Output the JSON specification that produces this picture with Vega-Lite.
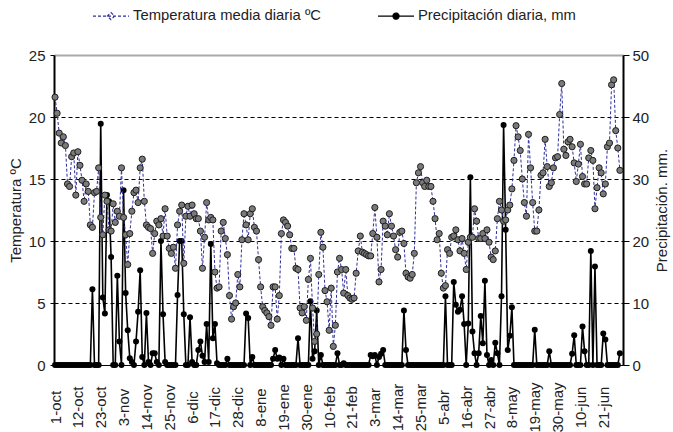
{
"$schema": "https://vega.github.io/schema/vega-lite/v6.json",
"width": 569, "height": 310,
"autosize": {"type": "none"},
"padding": {"left": 54, "top": 55, "right": 50, "bottom": 67},
"config": {"font": "Liberation Sans", "view": {"stroke": null},
  "axis": {"labelColor": "#222", "titleColor": "#222", "labelFontSize": 15, "titleFontSize": 15, "titleFontWeight": "normal", "labelFont": "Liberation Sans", "titleFont": "Liberation Sans"}},
"data": {"values": [
{"d":0,"t":21.6,"p":0},{"d":1,"t":20.3,"p":0},{"d":2,"t":18.7,"p":0},{"d":3,"t":17.9,"p":0},{"d":4,"t":18.4,"p":0},{"d":5,"t":17.7,"p":0},{"d":6,"t":14.6,"p":0},{"d":7,"t":14.4,"p":0},{"d":8,"t":16.8,"p":0},{"d":9,"t":17.1,"p":0},
{"d":10,"t":13.7,"p":0},{"d":11,"t":17.2,"p":0},{"d":12,"t":16.1,"p":0},{"d":13,"t":14.9,"p":0},{"d":14,"t":13.2,"p":0},{"d":15,"t":14.6,"p":0},{"d":16,"t":14.0,"p":0},{"d":17,"t":11.3,"p":0},{"d":18,"t":11.1,"p":12.2},{"d":19,"t":13.9,"p":0},
{"d":20,"t":14.0,"p":0},{"d":21,"t":15.9,"p":0},{"d":22,"t":11.9,"p":38.9},{"d":23,"t":10.5,"p":10.9},{"d":24,"t":13.7,"p":8.3},{"d":25,"t":13.2,"p":27.4},{"d":26,"t":10.9,"p":26.4},{"d":27,"t":10.8,"p":17.4},{"d":28,"t":13.0,"p":0},{"d":29,"t":11.5,"p":0},
{"d":30,"t":12.4,"p":14.4},{"d":31,"t":12.0,"p":3.8},{"d":32,"t":15.9,"p":0},{"d":33,"t":11.9,"p":28.2},{"d":34,"t":10.5,"p":11.6},{"d":35,"t":8.1,"p":5.6},{"d":36,"t":10.6,"p":1.1},{"d":37,"t":12.4,"p":0.5},{"d":38,"t":13.9,"p":0},{"d":39,"t":14.1,"p":3.8},
{"d":40,"t":13.1,"p":8.6},{"d":41,"t":15.9,"p":15.3},{"d":42,"t":16.6,"p":1.3},{"d":43,"t":13.2,"p":0},{"d":44,"t":11.3,"p":8.4},{"d":45,"t":11.1,"p":0.5},{"d":46,"t":11.0,"p":0},{"d":47,"t":9.0,"p":1.9},{"d":48,"t":10.6,"p":1.9},{"d":49,"t":11.6,"p":0.5},
{"d":50,"t":11.3,"p":0},{"d":51,"t":11.8,"p":20.0},{"d":52,"t":10.4,"p":8.2},{"d":53,"t":12.6,"p":0.5},{"d":54,"t":10.4,"p":0},{"d":55,"t":9.4,"p":0},{"d":56,"t":9.0,"p":0},{"d":57,"t":9.5,"p":0},{"d":58,"t":7.8,"p":0},{"d":59,"t":11.3,"p":11.3},
{"d":60,"t":12.4,"p":20.0},{"d":61,"t":12.9,"p":20.0},{"d":62,"t":8.2,"p":8.2},{"d":63,"t":12.0,"p":0},{"d":64,"t":12.8,"p":0},{"d":65,"t":12.0,"p":7.7},{"d":66,"t":12.9,"p":0.5},{"d":67,"t":12.2,"p":0},{"d":68,"t":11.8,"p":0},{"d":69,"t":11.8,"p":2.4},
{"d":70,"t":10.8,"p":3.8},{"d":71,"t":7.8,"p":1.5},{"d":72,"t":10.3,"p":0.5},{"d":73,"t":13.1,"p":6.6},{"d":74,"t":11.7,"p":0.5},{"d":75,"t":11.9,"p":19.5},{"d":76,"t":11.7,"p":4.3},{"d":77,"t":7.5,"p":6.6},{"d":78,"t":6.2,"p":0.3},{"d":79,"t":6.3,"p":0},
{"d":80,"t":10.8,"p":0},{"d":81,"t":11.5,"p":0},{"d":82,"t":10.2,"p":0},{"d":83,"t":8.9,"p":1.0},{"d":84,"t":5.6,"p":0},{"d":85,"t":3.7,"p":0},{"d":86,"t":4.7,"p":0},{"d":87,"t":5.0,"p":0},{"d":88,"t":7.3,"p":0},{"d":89,"t":6.3,"p":0},
{"d":90,"t":10.1,"p":0},{"d":91,"t":12.2,"p":0},{"d":92,"t":11.3,"p":8.3},{"d":93,"t":10.1,"p":7.6},{"d":94,"t":12.2,"p":0},{"d":95,"t":12.6,"p":1.3},{"d":96,"t":11.1,"p":0},{"d":97,"t":10.8,"p":0},{"d":98,"t":8.5,"p":0},{"d":99,"t":6.3,"p":0},
{"d":100,"t":4.7,"p":0},{"d":101,"t":4.4,"p":0},{"d":102,"t":4.2,"p":0},{"d":103,"t":3.9,"p":0},{"d":104,"t":3.2,"p":0},{"d":105,"t":6.3,"p":1.0},{"d":106,"t":6.3,"p":2.4},{"d":107,"t":3.7,"p":1.0},{"d":108,"t":5.6,"p":1.2},{"d":109,"t":10.6,"p":0},
{"d":110,"t":11.7,"p":1.0},{"d":111,"t":11.5,"p":0},{"d":112,"t":11.2,"p":0},{"d":113,"t":10.5,"p":0},{"d":114,"t":9.4,"p":0},{"d":115,"t":9.4,"p":0},{"d":116,"t":7.8,"p":0},{"d":117,"t":7.7,"p":4.3},{"d":118,"t":4.6,"p":0},{"d":119,"t":4.2,"p":0},
{"d":120,"t":4.7,"p":0},{"d":121,"t":3.6,"p":0},{"d":122,"t":6.9,"p":0},{"d":123,"t":8.6,"p":10.3},{"d":124,"t":4.6,"p":1.0},{"d":125,"t":1.9,"p":2.2},{"d":126,"t":2.5,"p":8.8},{"d":127,"t":7.3,"p":0},{"d":128,"t":10.7,"p":1.6},{"d":129,"t":9.5,"p":0},
{"d":130,"t":6.0,"p":0},{"d":131,"t":5.1,"p":0},{"d":132,"t":2.8,"p":0},{"d":133,"t":6.2,"p":0},{"d":134,"t":1.5,"p":0},{"d":135,"t":3.2,"p":0},{"d":136,"t":7.5,"p":1.9},{"d":137,"t":8.6,"p":0},{"d":138,"t":7.7,"p":0},{"d":139,"t":5.8,"p":0.3},
{"d":140,"t":7.7,"p":0},{"d":141,"t":5.6,"p":0},{"d":142,"t":5.4,"p":0},{"d":143,"t":5.3,"p":0},{"d":144,"t":5.4,"p":0},{"d":145,"t":7.4,"p":0},{"d":146,"t":9.2,"p":0},{"d":147,"t":10.4,"p":0},{"d":148,"t":9.1,"p":0},{"d":149,"t":9.0,"p":0},
{"d":150,"t":8.9,"p":0},{"d":151,"t":8.8,"p":0},{"d":152,"t":8.8,"p":1.6},{"d":153,"t":10.6,"p":1.4},{"d":154,"t":12.7,"p":1.6},{"d":155,"t":10.3,"p":0},{"d":156,"t":6.7,"p":1.3},{"d":157,"t":7.7,"p":1.8},{"d":158,"t":11.6,"p":2.4},{"d":159,"t":11.2,"p":0},
{"d":160,"t":10.5,"p":0},{"d":161,"t":12.2,"p":0},{"d":162,"t":11.2,"p":0},{"d":163,"t":10.4,"p":0},{"d":164,"t":9.3,"p":0},{"d":165,"t":8.7,"p":0},{"d":166,"t":10.7,"p":0},{"d":167,"t":10.8,"p":0},{"d":168,"t":9.8,"p":8.8},{"d":169,"t":7.4,"p":2.4},
{"d":170,"t":7.1,"p":0},{"d":171,"t":7.0,"p":0},{"d":172,"t":7.3,"p":0},{"d":173,"t":9.0,"p":0},{"d":174,"t":14.7,"p":0},{"d":175,"t":15.5,"p":0},{"d":176,"t":16.0,"p":0},{"d":177,"t":14.7,"p":0},{"d":178,"t":14.4,"p":0},{"d":179,"t":14.9,"p":0},
{"d":180,"t":14.4,"p":0},{"d":181,"t":14.4,"p":0},{"d":182,"t":13.2,"p":0},{"d":183,"t":11.8,"p":0},{"d":184,"t":10.1,"p":0},{"d":185,"t":10.6,"p":0},{"d":186,"t":7.4,"p":0},{"d":187,"t":6.2,"p":0},{"d":188,"t":6.4,"p":11.1},{"d":189,"t":9.3,"p":0},
{"d":190,"t":9.0,"p":0},{"d":191,"t":10.3,"p":0},{"d":192,"t":10.4,"p":13.4},{"d":193,"t":10.9,"p":9.7},{"d":194,"t":10.1,"p":8.6},{"d":195,"t":9.2,"p":8.9},{"d":196,"t":10.2,"p":11.1},{"d":197,"t":9.0,"p":6.6},{"d":198,"t":7.7,"p":0},{"d":199,"t":9.9,"p":6.7},
{"d":200,"t":10.3,"p":30.3},{"d":201,"t":10.3,"p":5.4},{"d":202,"t":12.6,"p":1.9},{"d":203,"t":11.6,"p":0},{"d":204,"t":10.2,"p":1.9},{"d":205,"t":10.2,"p":7.9},{"d":206,"t":10.6,"p":3.5},{"d":207,"t":10.2,"p":13.6},{"d":208,"t":10.9,"p":1.6},{"d":209,"t":9.9,"p":0},
{"d":210,"t":8.7,"p":0.8},{"d":211,"t":8.5,"p":0},{"d":212,"t":9.2,"p":3.6},{"d":213,"t":11.8,"p":1.9},{"d":214,"t":13.2,"p":0},{"d":215,"t":12.5,"p":11.1},{"d":216,"t":11.6,"p":38.7},{"d":217,"t":11.7,"p":21.8},{"d":218,"t":12.5,"p":2.4},{"d":219,"t":12.9,"p":4.7},
{"d":220,"t":14.2,"p":9.3},{"d":221,"t":16.5,"p":0},{"d":222,"t":19.3,"p":0},{"d":223,"t":18.4,"p":0},{"d":224,"t":17.3,"p":0},{"d":225,"t":15.0,"p":0},{"d":226,"t":13.1,"p":0},{"d":227,"t":12.0,"p":0},{"d":228,"t":18.6,"p":0},{"d":229,"t":15.9,"p":0},
{"d":230,"t":13.1,"p":0},{"d":231,"t":10.8,"p":5.7},{"d":232,"t":10.8,"p":0},{"d":233,"t":12.5,"p":0},{"d":234,"t":15.3,"p":0},{"d":235,"t":15.5,"p":0},{"d":236,"t":18.2,"p":0},{"d":237,"t":16.0,"p":0},{"d":238,"t":14.4,"p":2.2},{"d":239,"t":14.7,"p":0},
{"d":240,"t":15.9,"p":0},{"d":241,"t":16.7,"p":0},{"d":242,"t":16.8,"p":0},{"d":243,"t":20.2,"p":0},{"d":244,"t":22.7,"p":0},{"d":245,"t":17.4,"p":0},{"d":246,"t":16.9,"p":0},{"d":247,"t":18.0,"p":0},{"d":248,"t":18.2,"p":0},{"d":249,"t":17.6,"p":1.8},
{"d":250,"t":16.3,"p":4.8},{"d":251,"t":14.8,"p":0},{"d":252,"t":16.2,"p":0},{"d":253,"t":17.8,"p":0},{"d":254,"t":15.2,"p":6.2},{"d":255,"t":14.6,"p":2.2},{"d":256,"t":14.6,"p":0},{"d":257,"t":16.7,"p":0},{"d":258,"t":17.3,"p":18.4},{"d":259,"t":16.5,"p":0},
{"d":260,"t":12.6,"p":15.9},{"d":261,"t":14.3,"p":0},{"d":262,"t":15.9,"p":0},{"d":263,"t":15.5,"p":0},{"d":264,"t":13.8,"p":5.1},{"d":265,"t":14.6,"p":4.1},{"d":266,"t":17.6,"p":0},{"d":267,"t":17.9,"p":0},{"d":268,"t":22.6,"p":0},{"d":269,"t":23.0,"p":0},
{"d":270,"t":18.9,"p":0},{"d":271,"t":17.5,"p":0},{"d":272,"t":15.7,"p":1.9}
]},
"encoding": {
  "x": {"field": "d", "type": "quantitative", "scale": {"domain": [-0.5, 273.5], "nice": false, "zero": false},
    "axis": {"title": null, "values": [0,11,22,33,44,55,66,77,88,99,110,121,132,143,154,165,176,187,198,209,220,231,242,253,264],
      "labelExpr": "['1-oct','12-oct','23-oct','3-nov','14-nov','25-nov','6-dic','17-dic','28-dic','8-ene','19-ene','30-ene','10-feb','21-feb','3-mar','14-mar','25-mar','5-abr','16-abr','27-abr','8-may','19-may','30-may','10-jun','21-jun'][round(datum.value/11)]",
      "labelAngle": -90, "labelAlign": "center", "labelBaseline": "middle", "ticks": false, "domain": true, "domainColor": "#000", "domainWidth": 1, "grid": false, "labelPadding": 42, "labelFontSize": 15, "labelOverlap": false, "labelFlush": false, "labelBound": false}}
},
"layer": [
  {"encoding": {"y": {"field": "p", "type": "quantitative", "scale": {"domain": [0, 50], "nice": false},
      "axis": {"orient": "right", "title": "Precipitación. mm.", "titleAngle": 270, "titleBaseline": "top", "values": [0,10,20,30,40,50], "grid": false, "domainColor": "#000", "domainWidth": 2, "tickColor": "#000", "tickSize": 6, "labelPadding": 3, "titlePadding": 6}}},
   "layer": [
     {"mark": {"type": "line", "strokeWidth": 1.6},
      "encoding": {"color": {"datum": "Precipitación diaria, mm", "type": "nominal",
        "scale": {"domain": ["Temperatura media diaria ºC", "Precipitación diaria, mm"], "range": ["#2e2e9e", "#000000"]},
        "legend": {"orient": "none", "legendX": 38, "legendY": -58, "direction": "horizontal", "title": null,
          "symbolType": "M-1,0L1,0", "symbolSize": 1300, "symbolStrokeWidth": 1.2, "labelFontSize": 14.8, "labelFont": "Liberation Sans", "labelColor": "#222", "labelOffset": 3, "columnPadding": 54, "labelLimit": 300,
          "encode": {"symbols": {"update": {
            "shape": {"signal": "datum.value === 'Temperatura media diaria ºC' ? 'M-1,0L1,0M0,-0.2L0.2,0L0,0.2L-0.2,0Z' : 'M-1,0L1,0M0.17,0A0.17,0.17,0,1,1,-0.17,0A0.17,0.17,0,1,1,0.17,0Z'"},
            "strokeDash": {"signal": "datum.value === 'Temperatura media diaria ºC' ? [3,2] : [1,0]"},
            "fill": {"signal": "datum.value === 'Temperatura media diaria ºC' ? 'white' : 'black'"}}}}}}}},
     {"mark": {"type": "point", "filled": true, "color": "#000", "size": 36, "opacity": 1}, "encoding": {}}
   ]},
  {"encoding": {"y": {"field": "t", "type": "quantitative", "scale": {"domain": [0, 25], "nice": false},
      "axis": {"orient": "left", "title": "Temperatura ºC", "values": [0,5,10,15,20,25], "grid": true,
        "gridColor": {"condition": {"test": "datum.value === 25", "value": "#aaaaaa"}, "value": "#000000"},
        "gridDash": {"condition": {"test": "datum.value === 25", "value": []}, "value": [4,3]},
        "gridWidth": {"condition": {"test": "datum.value === 25", "value": 2}, "value": 1},
        "domainColor": "#000", "domainWidth": 2, "tickColor": "#000", "tickSize": 4, "labelPadding": 5, "titlePadding": 5}}},
   "layer": [
     {"mark": {"type": "line", "strokeWidth": 1, "strokeDash": [3,2]},
      "encoding": {"color": {"datum": "Temperatura media diaria ºC", "type": "nominal"}}},
     {"mark": {"type": "point", "filled": true, "color": "#7a7a7a", "stroke": "#1e1e1e", "strokeWidth": 1, "size": 38, "opacity": 1}, "encoding": {}}
   ]}
],
"resolve": {"scale": {"y": "independent"}}
}
